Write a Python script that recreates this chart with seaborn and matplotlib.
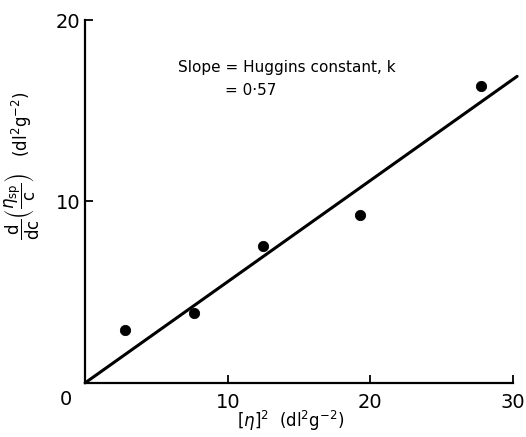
import matplotlib
matplotlib.use("Agg")
import matplotlib.pyplot as plt
import seaborn as sns
import pandas as pd

# data
x_vals = [2.8, 7.6, 12.5, 19.3, 27.8]
y_vals = [2.9, 3.85, 7.55, 9.25, 16.35]
fit_x = [0, 30.3]
fit_y = [0, 16.9]
x_ticks = [0, 10, 20, 30]
y_ticks = [10, 20]

sns.set_style("ticks")
plt.rcParams['font.family'] = ['DejaVu Sans']

fig = plt.figure(figsize=(5.26, 4.37), dpi=100)
ax = fig.add_axes([0.162, 0.124, 0.813, 0.83])

pts = pd.DataFrame({"x": x_vals, "y": y_vals})
fit = pd.DataFrame({"x": fit_x, "y": fit_y})
sns.lineplot(data=fit, x="x", y="y", ax=ax, color="black", linewidth=2.2)
for l in ax.lines:
    l.set_clip_on(False)
sns.scatterplot(data=pts, x="x", y="y", ax=ax, color="black", s=55,
                edgecolor="black", zorder=5, clip_on=False)

ax.set_xlim(0, 30)
ax.set_ylim(0, 20)
ax.set_xticks(x_ticks)
ax.set_xticklabels(["", "10", "20", "30"])
ax.set_yticks(y_ticks)
ax.set_yticklabels(["10", "20"])
ax.tick_params(direction="in", length=6, width=1.3, labelsize=14, colors="black")
ax.tick_params(axis="x", pad=7)
for s in ["top", "right"]:
    ax.spines[s].set_visible(False)
for s in ["left", "bottom"]:
    ax.spines[s].set_linewidth(1.6)
    ax.spines[s].set_color("black")

ax.text(-0.045, -0.045, "0", transform=ax.transAxes, fontsize=14,
        ha="center", va="center", color="black")

ax.set_xlabel(r"$[\eta]^2$  (dl$^2$g$^{-2}$)", fontsize=12, labelpad=0,
              color="black")
ax.xaxis.set_label_coords(0.48, -0.072)
ax.set_ylabel(r"$\dfrac{\mathrm{d}}{\mathrm{dc}}\left(\dfrac{\eta_{\mathrm{sp}}}{\mathrm{c}}\right)$   (dl$^2$g$^{-2}$)",
              fontsize=12, labelpad=4, color="black")
ax.yaxis.set_label_coords(-0.1, 0.6)

ax.text(0.217, 0.87, "Slope = Huggins constant, k", transform=ax.transAxes,
        fontsize=11, ha="left", va="center", color="black")
ax.text(0.327, 0.807, "= 0·57", transform=ax.transAxes,
        fontsize=11, ha="left", va="center", color="black")

ax.set_facecolor("white")
fig.savefig("out.png", dpi=100, facecolor="white")
